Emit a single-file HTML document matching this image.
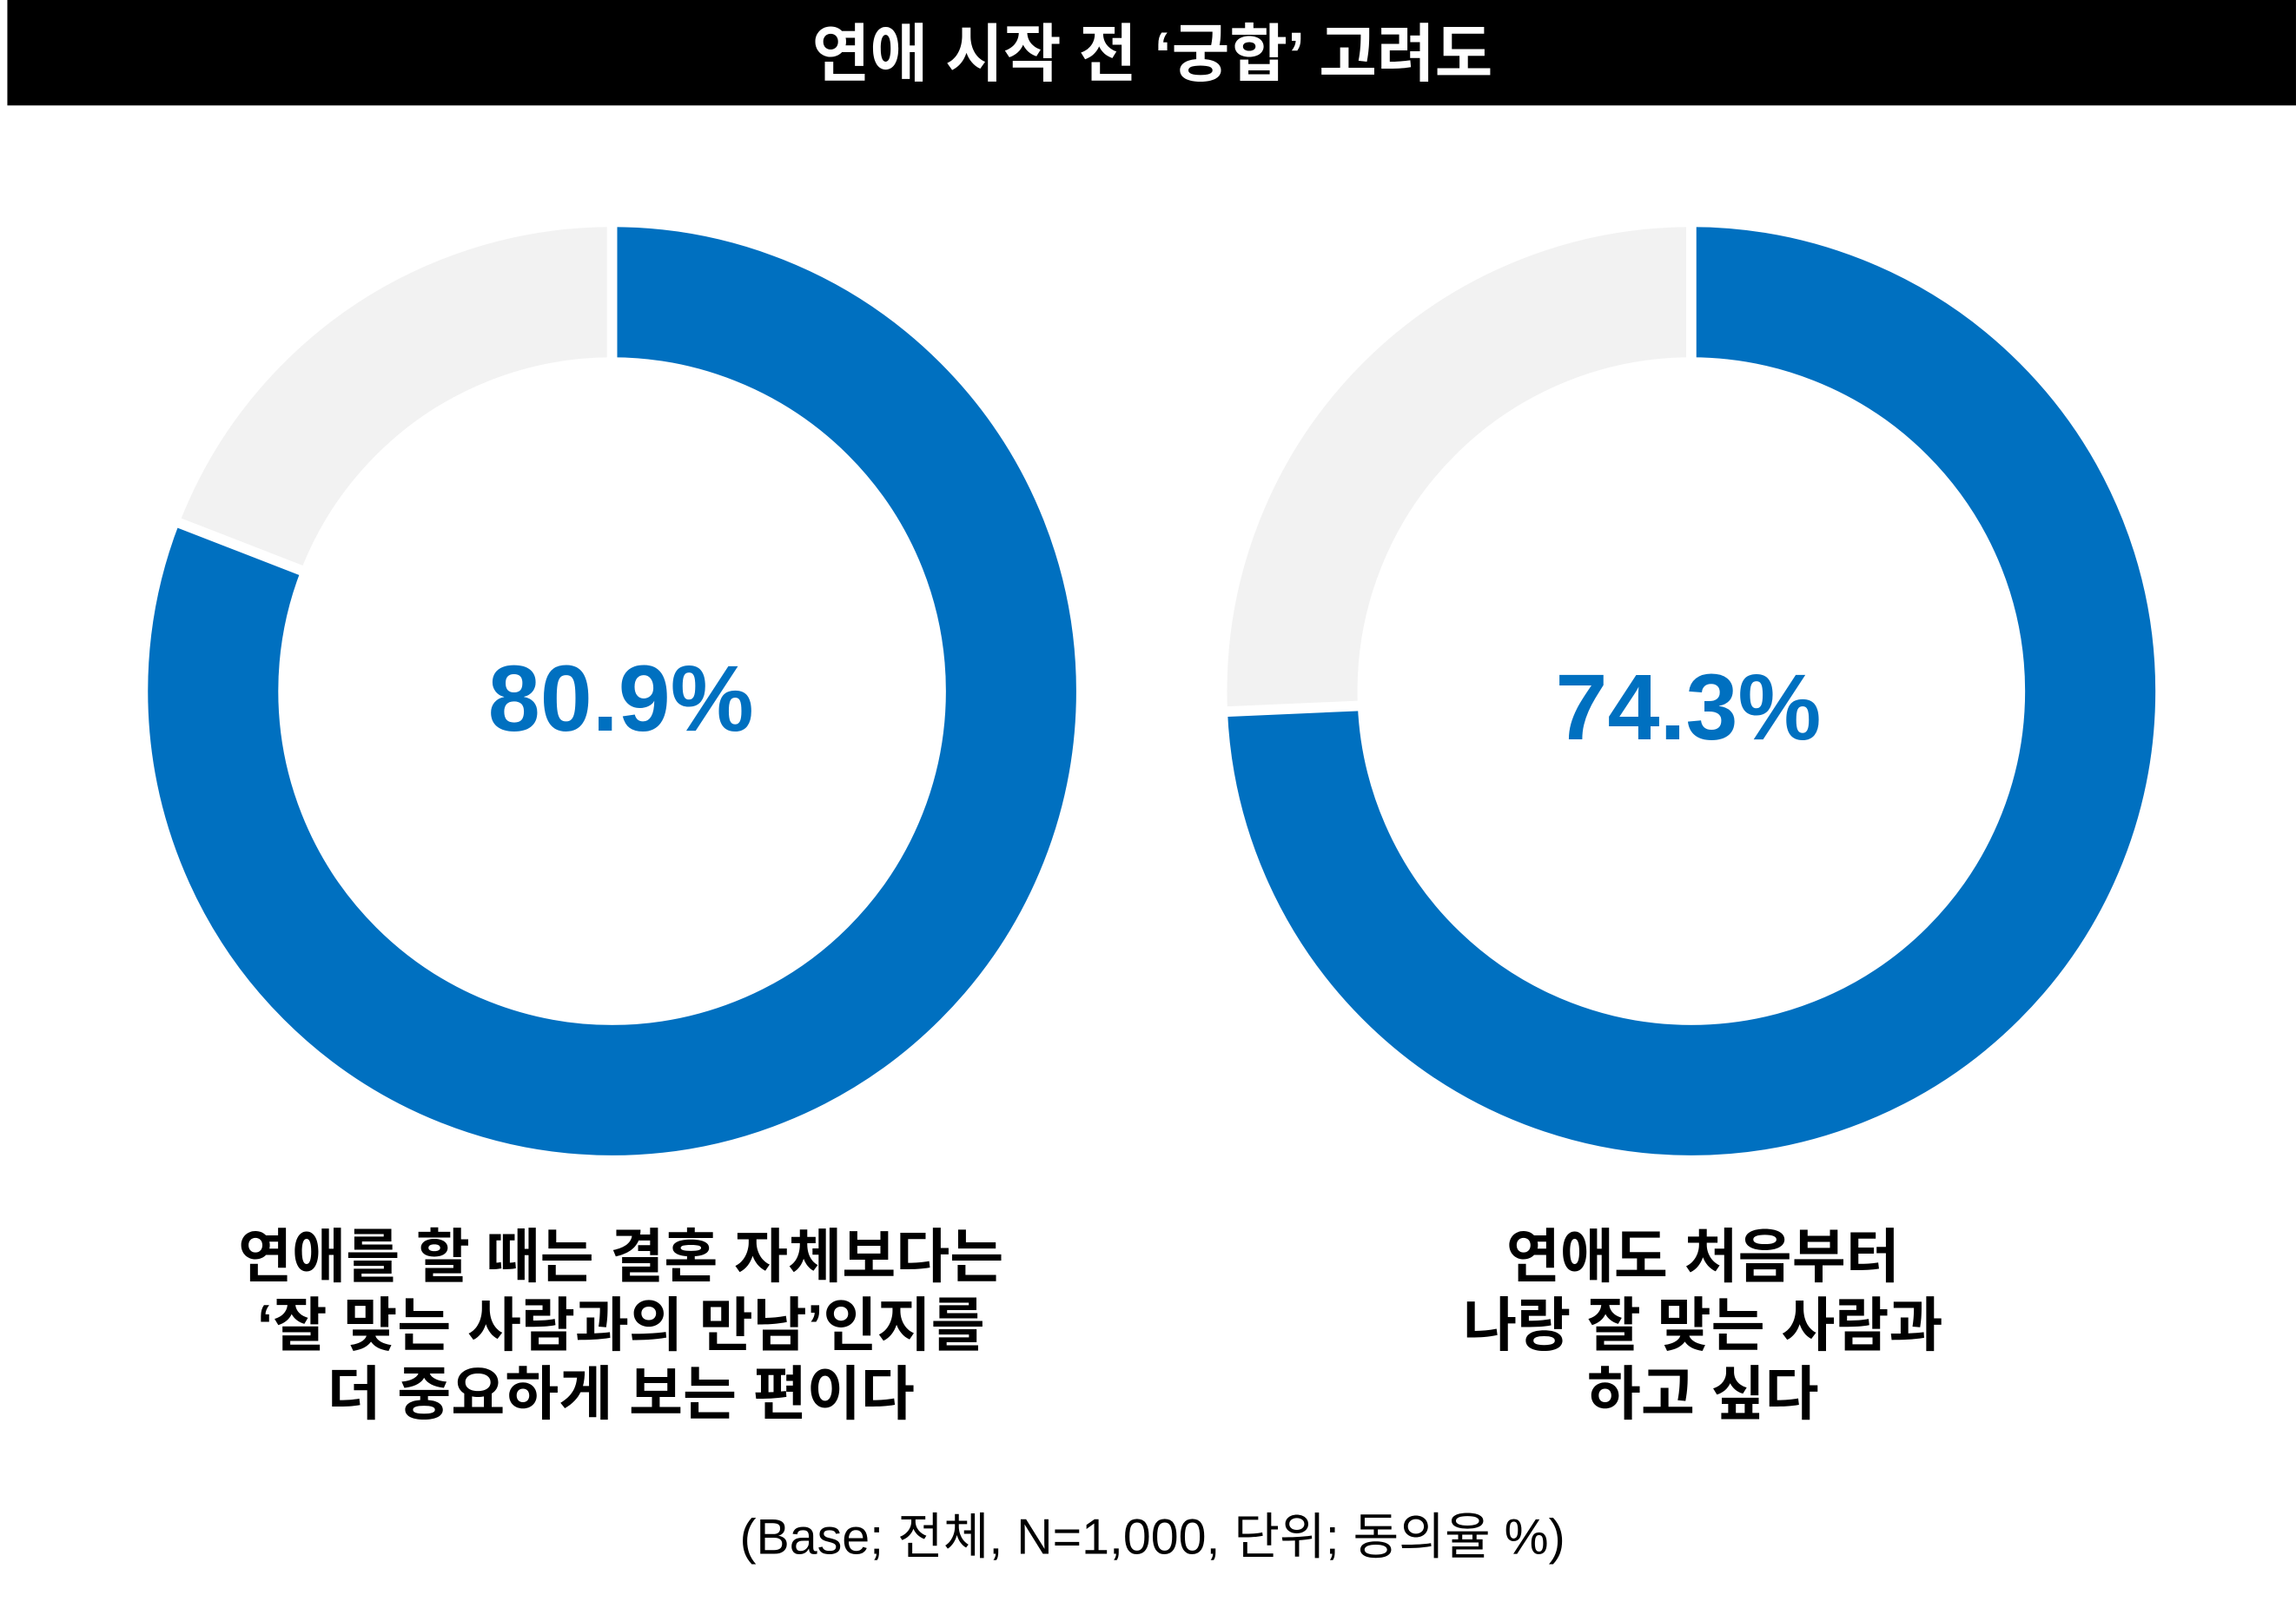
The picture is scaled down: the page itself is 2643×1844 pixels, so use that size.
<!DOCTYPE html>
<html><head><meta charset="utf-8"><style>
html,body{margin:0;padding:0;background:#fff;}
svg{display:block;}
text{font-family:"Liberation Sans","Noto Sans CJK KR",sans-serif;}
</style></head><body>
<svg width="2643" height="1844" viewBox="0 0 1568 1094" xmlns="http://www.w3.org/2000/svg">
<rect x="0" y="0" width="1568" height="1094" fill="#fff"/>
<rect x="5" y="0" width="1563" height="72" fill="#000"/>
<text x="787" y="52" text-anchor="middle" fill="#fff" font-size="43" font-weight="bold">연애 시작 전 ‘궁합’ 고려도</text>

<g>
<circle cx="418" cy="472" r="272.5" fill="none" stroke="#f2f2f2" stroke-width="89"/>
<circle cx="418" cy="472" r="272.5" fill="none" stroke="#0070c0" stroke-width="89" stroke-dasharray="1385.2 2000" transform="rotate(-90 418 472)"/>
<line x1="418" y1="147" x2="418" y2="252" stroke="#fff" stroke-width="7"/>
<line x1="212.9" y1="392.3" x2="115.1" y2="354.3" stroke="#fff" stroke-width="7"/>
<text x="424" y="499" text-anchor="middle" fill="#0070c0" font-size="64" font-weight="bold">80.9%</text>
</g>
<g>
<circle cx="1155" cy="472" r="272.5" fill="none" stroke="#f2f2f2" stroke-width="89"/>
<circle cx="1155" cy="472" r="272.5" fill="none" stroke="#0070c0" stroke-width="89" stroke-dasharray="1272.2 2000" transform="rotate(-90 1155 472)"/>
<line x1="1155" y1="147" x2="1155" y2="252" stroke="#fff" stroke-width="7"/>
<line x1="935.2" y1="481.7" x2="830.3" y2="486.3" stroke="#fff" stroke-width="7"/>
<text x="1153" y="505" text-anchor="middle" fill="#0070c0" font-size="64" font-weight="bold">74.3%</text>
</g>

<g font-size="40" font-weight="bold" fill="#000" text-anchor="middle">
<text x="424" y="872">연애를 할 때는 결혼 자체보다는</text>
<text x="424" y="919">‘잘 맞는 사람과의 만남’인지를</text>
<text x="424" y="966">더 중요하게 보는 편이다</text>
<text x="1163" y="872">연애도 처음부터</text>
<text x="1163" y="919">나랑 잘 맞는 사람과</text>
<text x="1163" y="966">하고 싶다</text>
</g>
<text x="787" y="1061" text-anchor="middle" font-size="34" fill="#000">(Base; 전체, N=1,000, 단위; 동의율 %)</text>
</svg>
</body></html>
